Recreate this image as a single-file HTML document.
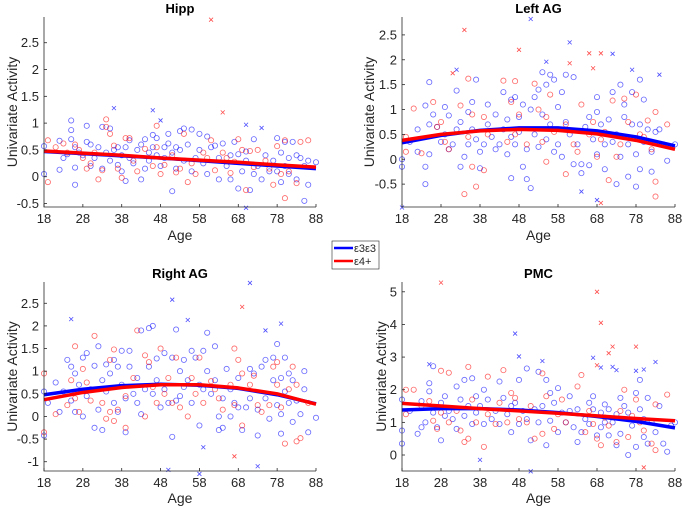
<!DOCTYPE html>
<html><head><meta charset="utf-8"><style>
body{margin:0;background:#fff;}
svg{display:block;font-family:"Liberation Sans","DejaVu Sans",sans-serif;}
</style></head><body>
<svg id="c" width="684" height="507" viewBox="0 0 684 507"></svg>
<script>
const fitAges=[18,28,38,48,58,68,78,88];
const hippBlue=[[18,.57],[18,.05],[22,.67],[22,.13],[23,.35],[24,.42],[25,1.05],[25,.87],[25,.7],[26,.55],[26,.17],[26,-.15],[27,.45],[28,.4],[29,.95],[29,.65],[30,.2],[30,.6],[31,.35],[32,.55],[33,.93],[33,.15],[34,.45],[35,.9],[35,.3],[36,.5],[37,.55],[37,.22],[38,.1],[38,.4],[39,.55],[39,-.08],[40,.68],[40,.35],[41,.25],[42,.5],[43,.6],[43,-.05],[44,.7],[44,.15],[45,.45],[45,.3],[46,.78],[46,.55],[47,.4],[47,.72],[48,.2],[49,.55],[49,.35],[50,.8],[50,.62],[51,.45],[51,-.27],[52,.55],[52,.15],[53,.85],[53,.5],[54,.9],[54,.3],[55,.6],[56,.88],[56,.1],[57,.35],[58,.8],[58,.5],[59,.25],[60,.75],[60,.05],[61,.55],[62,.58],[63,.35],[63,-.05],[64,.62],[65,.2],[66,.4],[66,-.05],[67,.65],[68,.42],[68,-.22],[69,.1],[70,.47],[70,.3],[71,-.25],[72,.7],[72,.05],[73,.2],[74,-.05],[75,.4],[76,.1],[77,.3],[78,.72],[78,.1],[79,.45],[79,-.1],[80,.65],[80,.2],[81,.35],[81,.05],[82,.65],[83,.4],[83,-.05],[84,.35],[85,.2],[85,-.45],[86,.3],[86,-.15],[88,.27]];
const hippBlueX=[[36,1.28],[46,1.24],[48,1.05],[70,.97],[74,.91],[70,-.58]];
const hippRed=[[19,.68],[19,-.1],[21,.55],[23,.62],[24,.45],[26,.6],[27,.5],[28,.35],[29,.15],[30,.25],[31,.45],[32,-.05],[33,.12],[34,1.07],[34,.93],[35,.8],[36,.58],[37,.15],[38,-.02],[39,.72],[40,.72],[41,.3],[42,.1],[44,.52],[46,.2],[47,.95],[47,.55],[48,.05],[49,.22],[51,.4],[52,.08],[53,.15],[54,.8],[55,-.1],[56,.25],[57,.05],[59,.45],[60,.35],[61,.68],[62,.12],[64,.45],[65,.35],[66,.07],[67,.28],[68,.7],[69,.5],[70,-.25],[71,.48],[72,.18],[73,.5],[75,.3],[76,.15],[77,-.15],[78,.57],[79,.05],[80,.68],[80,-.4],[81,.1],[83,-.12],[84,.65],[86,.68]];
const hippRedX=[[61,2.93],[64,1.2]];
const hippFitBlue=[.47,.43,.39,.35,.30,.25,.20,.15];
const hippFitRed=[.48,.44,.40,.35,.31,.27,.22,.18];

const lagBlue=[[18,0],[18,-.15],[20,.35],[22,.6],[22,.15],[24,1.08],[24,-.15],[24,-.5],[25,1.55],[25,.7],[25,.1],[26,.9],[27,.65],[28,.35],[29,1.05],[29,.5],[30,.2],[30,.88],[31,.3],[32,1.38],[32,.6],[33,.75],[33,-.15],[34,.05],[35,.95],[35,.3],[36,1.15],[36,.6],[37,1.6],[37,.4],[38,.15],[38,-.18],[39,.3],[40,1.1],[40,.7],[41,.45],[42,.9],[42,.2],[43,.3],[44,1.35],[44,.6],[45,.1],[45,.8],[46,1.2],[46,.45],[46,-.38],[47,1.25],[47,.3],[48,.55],[48,.85],[49,1.1],[49,-.15],[50,.2],[50,-.4],[51,1.0],[51,-.58],[52,1.25],[52,.5],[53,1.4],[53,.25],[54,1.75],[54,.9],[55,1.5],[55,.4],[56,1.7],[56,.7],[57,1.6],[57,.15],[58,1.05],[58,.3],[59,1.35],[59,.05],[60,1.7],[60,.75],[61,.5],[62,1.65],[62,-.1],[63,.3],[64,-.1],[64,-.28],[65,.65],[66,.85],[66,-.12],[67,.4],[68,1.25],[68,.95],[68,.1],[69,.7],[70,.3],[70,-.2],[71,.8],[72,1.35],[72,.35],[73,.5],[73,-.5],[74,1.5],[74,.05],[75,.85],[75,1.1],[76,.3],[76,-.35],[77,1.35],[77,.7],[78,.1],[78,-.55],[79,1.6],[79,.7],[79,-.2],[80,1.2],[80,.35],[81,.6],[82,.15],[82,-.25],[83,.55],[84,.6],[85,.3],[86,-.03],[88,.3]];
const lagBlueX=[[18,-.97],[32,1.8],[51,2.82],[55,1.96],[61,2.35],[72,2.12],[77,1.8],[84,1.7],[64,-.65],[68,-.82]];
const lagRed=[[19,.45],[19,.15],[21,1.02],[23,.12],[26,1.15],[27,.65],[28,.75],[29,.35],[30,.2],[33,1.08],[34,-.7],[35,.45],[35,1.62],[36,.9],[36,-.15],[37,-.55],[39,.85],[39,-.22],[40,.5],[44,1.58],[45,.35],[46,1.15],[47,1.57],[47,.5],[48,.9],[50,.3],[52,1.52],[53,1.0],[54,.35],[55,.85],[55,-.05],[56,1.3],[57,.55],[60,.7],[60,-.3],[62,.3],[63,.15],[64,1.1],[66,.5],[67,.75],[68,.05],[69,.4],[70,.55],[71,-.42],[72,1.18],[73,.05],[74,.3],[75,1.22],[76,.75],[78,1.3],[79,.5],[80,.45],[81,.78],[82,.2],[83,-.45],[83,.95],[83,-.75],[86,.7]];
const lagRedX=[[31,1.73],[34,2.6],[48,2.2],[61,1.93],[66,2.13],[67,1.83],[69,2.13],[69,-.88]];
const lagFitBlue=[.33,.48,.58,.63,.63,.57,.45,.27];
const lagFitRed=[.38,.50,.57,.60,.58,.51,.38,.20];

const ragBlue=[[18,.55],[18,-.42],[19,.3],[21,.75],[22,.1],[23,.55],[24,1.25],[25,1.1],[25,.35],[26,.95],[26,.1],[27,.7],[28,1.3],[28,0],[29,1.4],[29,.45],[30,.6],[31,1.12],[31,-.25],[32,1.55],[32,.15],[33,.8],[33,-.3],[34,1.15],[34,.55],[35,.95],[36,1.25],[36,.3],[37,1.1],[37,.1],[38,1.45],[38,.7],[39,.4],[39,-.35],[40,1.45],[40,1.1],[41,.5],[42,.85],[42,.3],[43,1.9],[43,.05],[44,.6],[45,1.1],[45,1.95],[46,.5],[46,2.0],[47,1.28],[47,.8],[48,.2],[49,1.4],[49,.6],[50,.3],[51,1.3],[51,-.45],[52,1.92],[52,.35],[53,1.0],[53,.45],[54,1.25],[54,.65],[55,.8],[56,1.45],[56,.3],[57,1.3],[58,.7],[58,-.2],[59,1.45],[59,.6],[60,1.85],[60,1.0],[61,.5],[62,1.55],[62,.8],[63,0],[63,-.3],[64,.4],[64,-.25],[65,1.05],[66,.6],[66,0],[67,.3],[68,.85],[68,.2],[69,-.3],[70,.2],[71,1.05],[71,.4],[72,.95],[73,-.42],[73,.15],[74,1.1],[75,1.25],[75,.4],[76,-.05],[77,1.3],[77,.8],[78,1.6],[78,.25],[79,.85],[79,.05],[79,-.38],[80,.55],[80,1.3],[81,.95],[81,.3],[82,-.12],[82,.8],[83,.35],[84,.05],[85,1.0],[85,.6],[86,-.35],[88,-.03]];
const ragBlueX=[[25,2.15],[51,2.58],[50,-1.18],[55,2.13],[58,-1.27],[59,-.68],[71,2.95],[73,-1.1],[75,1.9],[79,2.05]];
const ragRed=[[18,.95],[18,-.35],[21,.05],[24,.25],[25,.8],[26,1.55],[26,.4],[27,.1],[28,1.05],[29,.75],[30,.35],[31,1.78],[33,.3],[34,-.05],[35,1.25],[35,.1],[36,1.48],[36,-.1],[37,.15],[39,-.25],[39,.45],[41,.85],[42,1.9],[44,1.35],[44,0],[45,1.2],[46,.65],[47,.3],[48,1.5],[49,.5],[50,.85],[51,.3],[52,1.3],[53,.2],[55,0],[56,.85],[57,.5],[58,1.3],[59,.3],[61,.78],[62,.6],[63,.4],[64,.15],[66,.7],[67,1.5],[67,.25],[68,1.25],[69,-.2],[69,.95],[71,.7],[72,.9],[73,.25],[74,.1],[76,.25],[77,1.1],[78,1.2],[78,.7],[79,.2],[80,-.6],[81,.6],[82,1.1],[83,.7],[83,-.55],[84,-.48],[86,.3]];
const ragRedX=[[69,2.42],[67,-.88]];
const ragFitBlue=[.48,.60,.68,.71,.69,.62,.48,.28];
const ragFitRed=[.37,.53,.64,.70,.70,.63,.50,.27];

const pmcBlue=[[18,1.7],[18,.75],[18,.35],[20,1.35],[22,.65],[23,1.65],[23,.85],[24,1.0],[25,2.2],[25,1.95],[26,2.72],[26,1.3],[27,.85],[28,1.6],[28,.45],[29,1.8],[29,1.2],[30,1.35],[31,1.1],[32,2.1],[32,.8],[33,1.7],[34,2.3],[34,1.2],[35,1.5],[36,2.35],[36,.95],[37,1.8],[37,1.3],[38,1.5],[39,2.0],[39,.95],[40,1.7],[41,1.1],[42,1.35],[43,2.25],[43,.95],[44,1.75],[45,1.25],[46,.7],[46,1.5],[47,1.6],[48,.95],[48,2.3],[49,1.35],[50,2.65],[50,1.1],[51,.45],[52,1.4],[53,1.0],[53,2.55],[54,1.5],[55,.3],[55,2.3],[56,1.9],[56,1.05],[57,1.6],[58,.7],[58,2.05],[59,1.3],[60,1.0],[61,1.8],[61,1.35],[62,.85],[63,1.4],[63,.4],[64,.7],[65,1.1],[66,1.6],[66,.95],[67,1.8],[67,1.4],[68,.6],[69,1.3],[69,.85],[70,1.55],[70,1.0],[71,1.4],[71,.6],[72,1.0],[73,.3],[73,1.25],[74,1.75],[74,.65],[75,1.5],[76,1.3],[76,0],[77,.9],[78,1.9],[78,.25],[79,1.4],[79,2.3],[80,.55],[80,1.1],[81,.35],[81,1.75],[82,1.0],[83,.7],[84,1.5],[85,.35],[86,.1],[87,.9],[88,1.0]];
const pmcBlueX=[[25,2.78],[47,3.72],[48,3.02],[54,2.88],[67,2.98],[69,2.68],[72,2.7],[73,2.6],[78,2.58],[80,2.62],[83,2.85],[38,-.15],[51,-.5]];
const pmcRed=[[19,2.0],[19,1.25],[21,2.0],[23,1.5],[25,1.65],[26,1.05],[27,.8],[28,2.58],[28,1.3],[30,2.52],[30,1.0],[32,1.35],[33,.75],[34,.4],[35,2.7],[35,.5],[36,1.7],[37,1.0],[39,.25],[40,2.4],[40,1.25],[42,.95],[43,1.6],[44,2.6],[45,1.0],[46,1.9],[47,1.75],[48,1.1],[50,1.0],[51,1.5],[52,.5],[54,2.5],[54,.65],[55,1.8],[57,.8],[58,1.25],[59,1.7],[60,1.0],[63,2.1],[64,2.45],[65,.7],[66,1.35],[67,.95],[68,.5],[69,.3],[70,1.15],[71,.9],[73,.4],[74,1.35],[75,2.0],[76,.55],[77,1.2],[78,1.7],[79,1.0],[80,.75],[82,.35],[83,.15],[83,1.55],[86,1.85]];
const pmcRedX=[[28,5.28],[68,5.0],[69,4.05],[71,3.12],[72,3.32],[78,3.32],[68,2.75],[80,-.38]];
const pmcFitBlue=[1.38,1.42,1.42,1.38,1.30,1.18,1.03,.83];
const pmcFitRed=[1.58,1.50,1.42,1.35,1.28,1.20,1.12,1.05];

const xTicks=[18,28,38,48,58,68,78,88];
const hippYTicks=[-0.5,0,0.5,1,1.5,2,2.5];
const lagYTicks=[-0.5,0,0.5,1,1.5,2,2.5];
const ragYTicks=[-1,-0.5,0,0.5,1,1.5,2,2.5];
const pmcYTicks=[0,1,2,3,4,5];

const NS='http://www.w3.org/2000/svg';
const svg=document.getElementById('c');
function mk(tag,attrs,parent){const e=document.createElementNS(NS,tag);for(const k in attrs)e.setAttribute(k,attrs[k]);(parent||svg).appendChild(e);return e;}

const panels=[
 {key:'hipp',title:'Hipp',x0:44,x1:316,y0:17,y1:207,ymin:-0.565,ymax:2.98,yt:hippYTicks,b:hippBlue,bx:hippBlueX,r:hippRed,rx:hippRedX,fb:hippFitBlue,fr:hippFitRed,ylx:12,agey:235},
 {key:'left-ag',title:'Left AG',x0:402,x1:675,y0:17,y1:207,ymin:-0.96,ymax:2.86,yt:lagYTicks,b:lagBlue,bx:lagBlueX,r:lagRed,rx:lagRedX,fb:lagFitBlue,fr:lagFitRed,ylx:369,agey:235},
 {key:'right-ag',title:'Right AG',x0:44,x1:316,y0:282,y1:471,ymin:-1.205,ymax:2.97,yt:ragYTicks,b:ragBlue,bx:ragBlueX,r:ragRed,rx:ragRedX,fb:ragFitBlue,fr:ragFitRed,ylx:12,agey:498},
 {key:'pmc',title:'PMC',x0:402,x1:675,y0:282,y1:471,ymin:-0.49,ymax:5.3,yt:pmcYTicks,b:pmcBlue,bx:pmcBlueX,r:pmcRed,rx:pmcRedX,fb:pmcFitBlue,fr:pmcFitRed,ylx:381,agey:498}
];
const BLUE='#0000ff',RED='#ff0000';
panels.forEach(p=>{
 const g=mk('g',{});
 
 
 const sx=a=>p.x0+(a-18)/(88-18)*(p.x1-p.x0);
 const sy=v=>p.y1-(v-p.ymin)/(p.ymax-p.ymin)*(p.y1-p.y0);
 function circles(arr,col,name){const gg=mk('g',{},g);
  arr.forEach(d=>{const c=mk('circle',{cx:sx(d[0]),cy:sy(d[1]),r:2.6,fill:'none',stroke:col,'stroke-width':0.8,'stroke-opacity':0.6},gg);});}
 function crosses(arr,col,name){const gg=mk('g',{},g);
  arr.forEach(d=>{const x=sx(d[0]),y=sy(d[1]);const e=mk('path',{d:`M${x-2} ${y-2}L${x+2} ${y+2}M${x-2} ${y+2}L${x+2} ${y-2}`,stroke:col,'stroke-width':0.8,'stroke-opacity':0.7},gg);});}
 circles(p.b,BLUE,'e3e3-points');
 circles(p.r,RED,'e4-points');
 crosses(p.bx,BLUE,'e3e3-outliers');
 crosses(p.rx,RED,'e4-outliers');
 function fit(vals,col,name){const pts=vals.map((v,i)=>sx(fitAges[i])+','+sy(v)).join(' ');
  const l=mk('polyline',{points:pts,fill:'none',stroke:col,'stroke-width':3.5,'stroke-linejoin':'round'},g);}
 fit(p.fb,BLUE,'e3e3-fit-line');
 fit(p.fr,RED,'e4-fit-line');
 const ax=mk('path',{d:`M${p.x0} ${p.y0}V${p.y1}H${p.x1}`,fill:'none',stroke:'#262626','stroke-width':0.8},g);
 
 xTicks.forEach(t=>{const x=sx(t);mk('line',{x1:x,x2:x,y1:p.y1,y2:p.y1-3,stroke:'#262626','stroke-width':0.8},g);
  const tx=mk('text',{x:x,y:p.y1+16,'text-anchor':'middle','font-size':13,fill:'#262626'},g);tx.textContent=t;});
 p.yt.forEach(t=>{const y=sy(t);mk('line',{x1:p.x0,x2:p.x0+3,y1:y,y2:y,stroke:'#262626','stroke-width':0.8},g);
  const tx=mk('text',{x:p.x0-5,y:y+4.5,'text-anchor':'end','font-size':13,fill:'#262626'},g);tx.textContent=String(t);});
 const ti=mk('text',{x:(p.x0+p.x1)/2,y:p.y0-4,'text-anchor':'middle','font-size':13,'font-weight':'bold',fill:'#000'},g);ti.textContent=p.title;
 const xl=mk('text',{x:(p.x0+p.x1)/2,y:p.agey+5,'text-anchor':'middle','font-size':14,fill:'#262626'},g);xl.textContent='Age';
 const cy=(p.y0+p.y1)/2;
 const yl=mk('text',{x:p.ylx,y:cy,'text-anchor':'middle','font-size':14,fill:'#262626',transform:`rotate(-90 ${p.ylx} ${cy}) translate(0 5)`},g);yl.textContent='Univariate Activity';
});
const lg=mk('g',{});


mk('rect',{x:332,y:241,width:47,height:28,fill:'#fff',stroke:'#262626','stroke-width':0.6},lg);
mk('line',{x1:334,x2:353,y1:248,y2:248,stroke:BLUE,'stroke-width':2.5},lg);
mk('line',{x1:334,x2:353,y1:261,y2:261,stroke:RED,'stroke-width':2.5},lg);
const t1=mk('text',{x:354,y:252,'font-size':11,fill:'#262626'},lg);t1.textContent='ε3ε3';


const t2=mk('text',{x:354,y:265,'font-size':11,fill:'#262626'},lg);t2.textContent='ε4+';


</script>
</body></html>
